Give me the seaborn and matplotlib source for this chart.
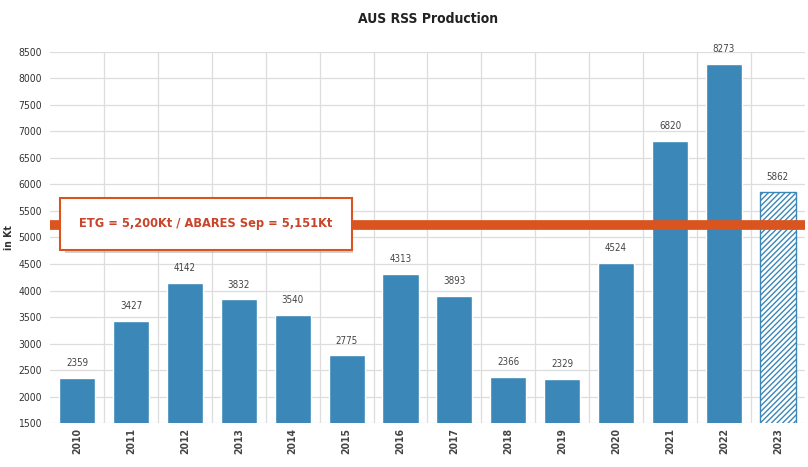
import matplotlib
matplotlib.use("Agg")
import matplotlib.pyplot as plt
import matplotlib.patches as mpatches
import seaborn as sns
import pandas as pd

years = ["2010", "2011", "2012", "2013", "2014", "2015", "2016",
         "2017", "2018", "2019", "2020", "2021", "2022", "2023"]
production = [2359, 3427, 4142, 3832, 3540, 2775, 4313,
              3893, 2366, 2329, 4524, 6820, 8273, 5862]
target_level = 5240
target_label = "ETG = 5,200Kt / ABARES Sep = 5,151Kt"

bar_blue = "#3b87b8"
line_red = "#d9541e"
text_red = "#c8442a"

sns.set_theme(style="white")
plt.rcParams["font.family"] = ["DejaVu Sans"]
plt.rcParams["font.stretch"] = "condensed"
plt.rcParams["hatch.linewidth"] = 1.0

df = pd.DataFrame({"year": years, "kt": production})

fig = plt.figure(figsize=(8.08, 4.67), dpi=100)
ax = fig.add_axes([0.062, 0.094, 0.934, 0.795])

sns.barplot(data=df, x="year", y="kt", color=bar_blue, saturation=1,
            width=0.67, ax=ax, zorder=2)

# forecast year drawn hatched
last = ax.patches[-1]
last.set_facecolor("white")
last.set_edgecolor(bar_blue)
last.set_hatch("//////")
last.set_linewidth(1.0)

ax.bar_label(ax.containers[0], fmt="%d", padding=7, fontsize=7, color="#444444")

ax.set_ylim(1500, 8500)
ax.set_yticks(range(1500, 8501, 500))
ax.set_xlim(-0.5, len(years) - 0.5)
ax.set_xticks([i + 0.5 for i in range(len(years) - 1)], minor=True)
ax.grid(axis="y", color="#dddddd", lw=0.9, zorder=0)
ax.grid(axis="x", which="minor", color="#dddddd", lw=0.9, zorder=0)
ax.grid(axis="x", which="major", visible=False)
ax.tick_params(axis="x", which="both", length=0)
ax.tick_params(axis="y", length=0, labelsize=7.5, labelcolor="#333333", pad=6)
for lbl in ax.get_xticklabels():
    lbl.set_rotation(90)
    lbl.set_fontsize(7.5)
    lbl.set_fontweight("bold")
    lbl.set_color("#444444")
for s in ax.spines.values():
    s.set_visible(False)

ax.set_xlabel("")
ax.set_ylabel("in Kt", fontsize=7.5, fontweight="bold", color="#333333", labelpad=3)

ax.axhline(target_level, color=line_red, lw=7, zorder=3)

# annotation box with a soft shadow
cx, cy = 206 / 808, (467 - 224) / 467
shadow = mpatches.Rectangle((65 / 808, (467 - 253) / 467), 288 / 808, 52 / 467,
                            transform=fig.transFigure, facecolor="#999999",
                            alpha=0.45, edgecolor="none", zorder=4, clip_on=False)
ax.add_patch(shadow)
ax.text(cx, cy, target_label, transform=fig.transFigure, ha="center", va="center",
        fontsize=9.2, fontweight="bold", color=text_red, zorder=6,
        bbox=dict(boxstyle="square,pad=1.5", facecolor="white",
                  edgecolor=line_red, linewidth=1.5))

fig.suptitle("AUS RSS Production", x=0.53, y=0.975, fontsize=10,
             fontweight="bold", color="#222222")

fig.savefig("out.png", dpi=100)
